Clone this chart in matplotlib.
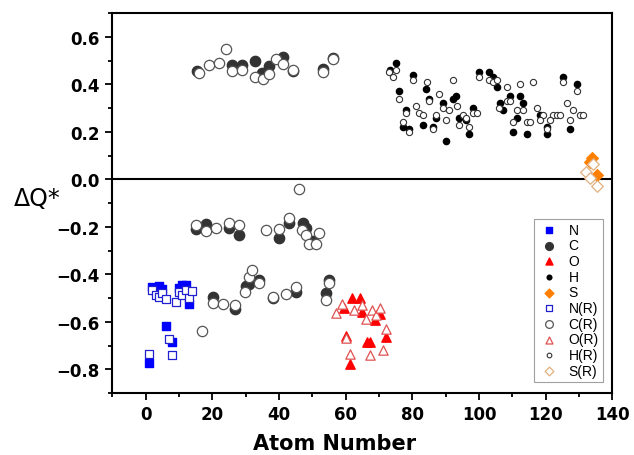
import matplotlib
matplotlib.use('Agg')
import matplotlib.pyplot as plt
from matplotlib.ticker import MultipleLocator

plt.rcParams['font.family'] = ['DejaVu Sans']

# atom number / delta Q values
n_x = [1.0, 6.0, 8.0, 2.0, 4.0, 5.0, 10.0, 11.0, 12.0, 13.0, 3.0]
n_y = [-0.773, -0.619, -0.685, -0.455, -0.451, -0.46, -0.456, -0.446, -0.444, -0.524, -0.47]
nr_x = [1.0, 7.0, 8.0, 2.0, 3.0, 4.0, 5.0, 6.0, 9.0, 10.0, 11.0, 12.0, 13.0, 14.0]
nr_y = [-0.734, -0.671, -0.741, -0.465, -0.486, -0.495, -0.479, -0.504, -0.517,
        -0.474, -0.488, -0.468, -0.5, -0.47]

c_x = [15.4, 26.0, 29.0, 32.9, 34.9, 37.1, 41.1, 44.1, 53.1, 56.1,
       15.0, 18.0, 24.9, 27.9, 40.1, 43.1, 47.1, 48.1, 50.1,
       20.2, 26.9, 30.1, 31.1, 34.1, 38.1, 45.1, 54.1, 55.1]
c_y = [0.456, 0.483, 0.483, 0.497, 0.448, 0.477, 0.515, 0.455, 0.466, 0.512,
       -0.211, -0.187, -0.204, -0.236, -0.246, -0.182, -0.182, -0.205, -0.261,
       -0.495, -0.545, -0.451, -0.439, -0.425, -0.502, -0.474, -0.477, -0.425]
cr_x = [16.0, 19.0, 21.9, 24.0, 26.0, 29.0, 32.9, 35.1, 37.1, 39.1, 41.1, 44.1, 53.1, 56.1,
        46.1, 15.0, 18.0, 21.0, 24.9, 27.9, 36.1, 40.1, 43.1, 46.9, 48.1, 49.1, 51.1, 52.1,
        20.2, 17.0, 23.1, 26.9, 29.9, 30.9, 31.9, 34.1, 38.1, 42.1, 45.1, 54.1, 55.1]
cr_y = [0.448, 0.483, 0.49, 0.55, 0.455, 0.462, 0.431, 0.421, 0.445, 0.505, 0.487, 0.462, 0.452, 0.505,
        -0.042, -0.194, -0.219, -0.205, -0.184, -0.191, -0.215, -0.208, -0.163, -0.215, -0.236,
        -0.271, -0.271, -0.225,
        -0.521, -0.64, -0.524, -0.53, -0.474, -0.411, -0.383, -0.435, -0.495, -0.481, -0.453,
        -0.509, -0.435]

o_x = [61.9, 64.2, 64.9, 68.9, 70.4, 72.2, 61.2, 66.4, 67.4, 60.2, 59.5]
o_y = [-0.5, -0.502, -0.559, -0.594, -0.566, -0.664, -0.78, -0.686, -0.686, -0.66, -0.54]
or_x = [57.2, 58.9, 62.4, 64.9, 66.2, 67.9, 69.2, 70.2, 72.2, 60.2, 61.2, 67.2, 71.2]
or_y = [-0.563, -0.524, -0.549, -0.528, -0.587, -0.552, -0.57, -0.542, -0.63, -0.668,
        -0.734, -0.738, -0.72]

h_x = [75.1, 73.4, 80.1, 76.1, 84.1, 85.1, 93.1, 92.1, 89.1, 78.1, 87.1, 94.1, 98.3, 96.1,
       77.2, 79.1, 83.1, 86.1, 97.1, 90.1, 100.1, 103.1, 104.3, 105.3, 109.3, 112.3, 106.3,
       107.1, 113.3, 111.3, 118.3, 120.3, 120.3, 110.3, 114.3, 127.2, 125.2, 129.3]
h_y = [0.49, 0.46, 0.44, 0.37, 0.38, 0.34, 0.35, 0.34, 0.32, 0.29, 0.26, 0.26, 0.30, 0.25,
       0.22, 0.21, 0.23, 0.22, 0.19, 0.16, 0.45, 0.45, 0.43, 0.39, 0.35, 0.35, 0.32,
       0.29, 0.32, 0.26, 0.27, 0.22, 0.19, 0.20, 0.19, 0.21, 0.43, 0.40]
hr_x = [73.1, 75.1, 74.2, 80.1, 84.3, 92.3, 76.1, 88.1, 85.1, 89.1, 81.1, 93.3, 78.1, 82.1,
        83.1, 87.1, 91.1, 95.1, 98.3, 99.3, 90.1, 96.1, 77.2, 79.1, 86.1, 94.1, 97.1,
        100.1, 103.1, 104.1, 105.3, 108.3, 112.3, 116.3, 125.2, 129.3, 108.3, 109.3, 106.1,
        111.3, 113.3, 110.3, 114.3, 115.3, 117.3, 119.3, 118.3, 122.2, 123.3, 124.3, 121.3,
        126.3, 128.2, 130.2, 131.2, 127.2, 120.3]
hr_y = [0.45, 0.46, 0.43, 0.42, 0.41, 0.42, 0.34, 0.36, 0.33, 0.30, 0.31, 0.31, 0.28, 0.28,
        0.27, 0.27, 0.29, 0.27, 0.28, 0.28, 0.25, 0.26, 0.24, 0.20, 0.21, 0.23, 0.22,
        0.43, 0.42, 0.41, 0.42, 0.39, 0.40, 0.41, 0.41, 0.37, 0.33, 0.33, 0.30,
        0.29, 0.29, 0.24, 0.24, 0.24, 0.30, 0.27, 0.25, 0.27, 0.27, 0.27, 0.25,
        0.32, 0.29, 0.27, 0.27, 0.25, 0.21]

s_x = [134.0, 133.4, 135.4]
s_y = [0.091, 0.075, 0.017]
sr_x = [134.2, 132.2, 133.2, 135.4]
sr_y = [0.066, 0.031, 0.007, -0.028]

fig = plt.figure(figsize=(6.34, 4.56), dpi=100)
ax = fig.add_axes([0.177, 0.136, 0.789, 0.833])

ax.axhline(0, color='black', linewidth=1.5, zorder=1)

# filled: unreduced charges
ax.scatter(n_x, n_y, marker='s', s=28, color='#0000ff', label='N', zorder=2)
ax.scatter(c_x, c_y, marker='o', s=55, color='#333333', label='C', zorder=2)
ax.scatter(o_x, o_y, marker='^', s=45, color='#ff0000', label='O', zorder=2)
ax.scatter(h_x, h_y, marker='o', s=20, color='black', label='H', zorder=2)
ax.scatter(s_x, s_y, marker='D', s=35, color='#ff8000', label='S', zorder=2)

# open: (R)
ax.scatter(nr_x, nr_y, marker='s', s=28, facecolor='white', edgecolor='#2020d0',
           linewidth=0.9, label='N(R)', zorder=3)
ax.scatter(cr_x, cr_y, marker='o', s=55, facecolor='white', edgecolor='#555555',
           linewidth=0.9, label='C(R)', zorder=3)
ax.scatter(or_x, or_y, marker='^', s=45, facecolor='white', edgecolor='#e05050',
           linewidth=0.9, label='O(R)', zorder=3)
ax.scatter(hr_x, hr_y, marker='o', s=20, facecolor='white', edgecolor='#333333',
           linewidth=0.8, label='H(R)', zorder=3)
ax.scatter(sr_x, sr_y, marker='D', s=35, facecolor='white', edgecolor='#e0b080',
           linewidth=0.9, label='S(R)', zorder=3)

ax.set_xlim(-10, 140)
ax.set_ylim(-0.9, 0.7)
ax.xaxis.set_major_locator(MultipleLocator(20))
ax.xaxis.set_minor_locator(MultipleLocator(10))
ax.yaxis.set_major_locator(MultipleLocator(0.2))
ax.yaxis.set_minor_locator(MultipleLocator(0.1))
ax.tick_params(which='major', direction='out', length=5, width=1.3, labelsize=12, pad=4)
ax.tick_params(which='minor', direction='out', length=3, width=1.3)
for lab in ax.get_xticklabels() + ax.get_yticklabels():
    lab.set_fontweight('bold')
for sp in ax.spines.values():
    sp.set_linewidth(1.5)

ax.set_xlabel('Atom Number', fontsize=15, fontweight='bold')
ax.xaxis.set_label_coords(0.445, -0.105)
ax.set_ylabel('ΔQ*', fontsize=17, rotation=0, va='center', ha='center')
ax.yaxis.set_label_coords(-0.15, 0.513)

leg = ax.legend(loc='lower right', bbox_to_anchor=(0.981, 0.029), borderaxespad=0,
                prop={'family': 'Liberation Sans', 'size': 10},
                frameon=True, fancybox=False, edgecolor='#888888',
                labelspacing=0.12, handletextpad=0.6, handlelength=1.6,
                borderpad=0.3, markerscale=0.75)
leg.get_frame().set_linewidth(0.8)

fig.savefig('out.png', dpi=100)
